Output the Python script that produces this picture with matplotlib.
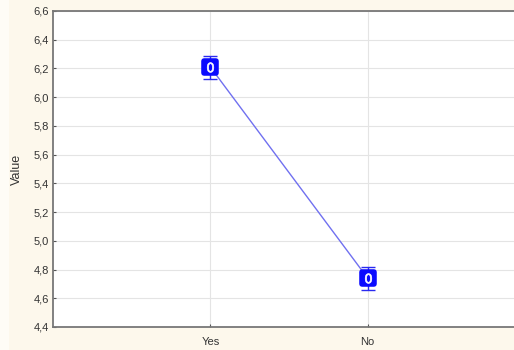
import matplotlib
matplotlib.use("Agg")
import matplotlib.pyplot as plt
from matplotlib.patches import Rectangle
from matplotlib.markers import MarkerStyle

categories = ["Yes", "No"]
means = [6.21, 4.74]
lower = [6.13, 4.66]
upper = [6.29, 4.82]
yticks = [4.4, 4.6, 4.8, 5.0, 5.2, 5.4, 5.6, 5.8, 6.0, 6.2, 6.4, 6.6]

plt.rcParams["font.family"] = ["Liberation Sans", "DejaVu Sans"]

fig = plt.figure(figsize=(5.14, 3.5), dpi=100, facecolor="#fdf8ec")
fig.patches.append(Rectangle((0, 0), 9 / 514, 1, transform=fig.transFigure,
                             facecolor="#fefcf6", edgecolor="none", zorder=0))
ax = fig.add_axes([53 / 514, 1 - 327 / 350, 472 / 514, 316 / 350])
ax.set_facecolor("white")

x = list(range(1, len(categories) + 1))
ax.plot(x, means, color="#7070f0", lw=1.0, zorder=3)
err_lo = [m - l for m, l in zip(means, lower)]
err_hi = [u - m for m, u in zip(means, upper)]
ax.errorbar(x, means, yerr=[err_lo, err_hi], fmt="none", ecolor="#2a2af0",
            elinewidth=1.0, capsize=5, capthick=1.0, zorder=4)
# rounded blue blob with a white "0" glyph on top
blob = MarkerStyle("s", joinstyle="round")
ax.plot(x, means, linestyle="none", marker=blob, markersize=8,
        markerfacecolor="#0a0aff", markeredgecolor="#0a0aff",
        markeredgewidth=4, zorder=5)
ax.plot(x, means, linestyle="none", marker="$0$", markersize=7,
        markerfacecolor="white", markeredgecolor="white", markeredgewidth=0.5,
        zorder=6)

ax.set_xlim(0, 3)
ax.set_ylim(4.4, 6.6)
ax.set_xticks(x)
ax.set_xticklabels(categories, fontsize=8, color="#333333")
ax.set_yticks(yticks)
ax.set_yticklabels([f"{v:.1f}".replace(".", ",") for v in yticks],
                   fontsize=8, color="#333333")
ax.tick_params(axis="y", length=2, direction="in", color="#555555", pad=3)
ax.tick_params(axis="x", length=2, direction="in", color="#555555", pad=7)
ax.grid(True, color="#e4e4e4", lw=0.8, zorder=0)
ax.set_axisbelow(True)

ax.spines["right"].set_visible(False)
for side in ["left", "top", "bottom"]:
    ax.spines[side].set_color("#777777")
    ax.spines[side].set_linewidth(1.3)

ax.set_ylabel("Value", fontsize=9, color="#333333")
ax.yaxis.set_label_coords(-0.063, 0.5)

fig.savefig("out.png", dpi=100, facecolor=fig.get_facecolor())
